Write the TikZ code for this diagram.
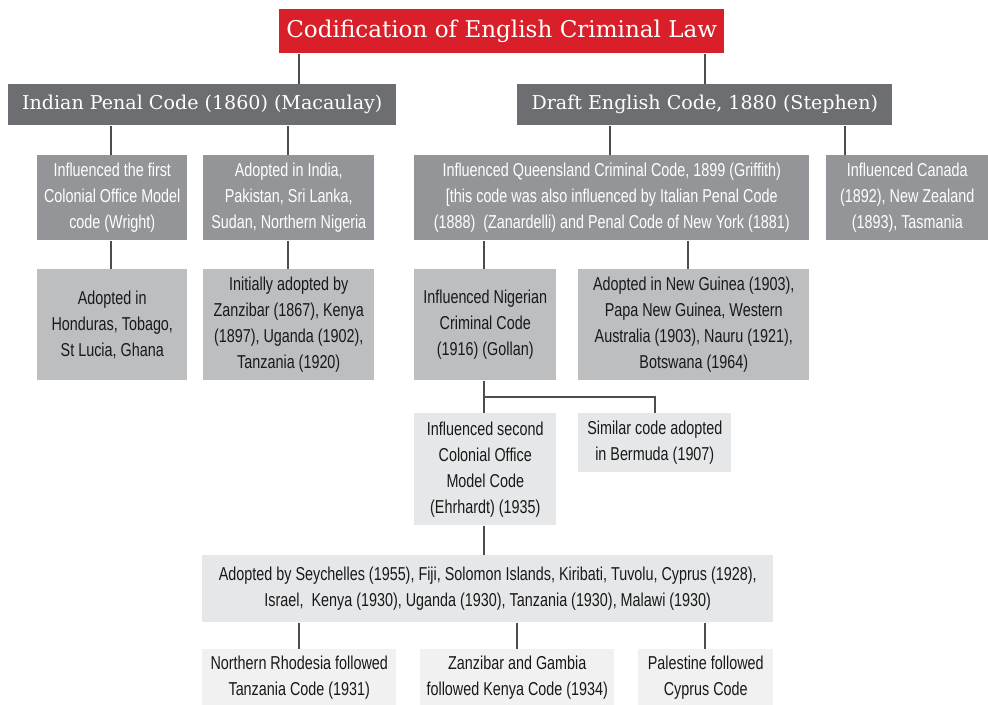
\documentclass[tikz,border=0pt]{standalone}
\usepackage{fontspec}
\newfontfamily\slabfont{DejaVu Serif}
\newfontfamily\narrowfont{Liberation Sans}[FakeStretch=0.77]
\definecolor{codered}{HTML}{D9202A}
\definecolor{grayA}{HTML}{6D6E71}
\definecolor{grayB}{HTML}{939598}
\definecolor{grayC}{HTML}{BCBEC0}
\definecolor{grayD}{HTML}{E6E7E8}
\definecolor{grayE}{HTML}{F1F1F2}
\definecolor{linkgray}{HTML}{4D4D4F}
\begin{document}
\begin{tikzpicture}[x=0.75pt,y=-0.75pt,
    box/.style={anchor=north west, inner sep=0pt, align=center,
      font=\narrowfont\fontsize{14}{19.5}\selectfont, text=black!90},
    head/.style={box, fill=grayA, text=white, minimum height=30.75pt,
      font=\slabfont\fontsize{14.3}{16}\selectfont},
    mid/.style={box, fill=grayB, text=white, minimum height=63.75pt},
    pale/.style={box, fill=grayC},
    paler/.style={box, fill=grayD},
    palest/.style={box, fill=grayE, minimum height=41.25pt},
    link/.style={draw=linkgray, line width=1.5pt}]
  \useasboundingbox (0,0) rectangle (988,705);
  \draw
    (279,9) node[head, fill=codered, minimum width=333.75pt, minimum height=33pt,
      font=\slabfont\fontsize{17.3}{19}\selectfont] (title){Codification of English Criminal Law}
    (8,84) node[head, minimum width=291pt] (ipc){Indian Penal Code (1860) (Macaulay)}
    (517,84) node[head, minimum width=281.25pt] (draft){Draft English Code, 1880 (Stephen)}
    (37,155) node[mid, minimum width=112.5pt] (wright){Influenced the first\\Colonial Office Model\\code (Wright)}
    (203,155) node[mid, minimum width=128.25pt] (india){Adopted in India,\\Pakistan, Sri Lanka,\\Sudan, Northern Nigeria}
    (414,155) node[mid, minimum width=296.25pt] (qld){Influenced Queensland Criminal Code, 1899 (Griffith)\\{}[this code was also influenced by Italian Penal Code\\(1888)\ \ (Zanardelli) and Penal Code of New York (1881)}
    (826,155) node[mid, minimum width=121.5pt] (canada){Influenced Canada\\(1892), New Zealand\\(1893), Tasmania}
    (37,269) node[pale, minimum width=112.5pt, minimum height=83.25pt] (honduras){Adopted in\\Honduras, Tobago,\\St Lucia, Ghana}
    (203,269) node[pale, minimum width=128.25pt, minimum height=83.25pt] (zanzibar){Initially adopted by\\Zanzibar (1867), Kenya\\(1897), Uganda (1902),\\Tanzania (1920)}
    (414,269) node[pale, minimum width=106.5pt, minimum height=83.25pt] (nigeria){Influenced Nigerian\\Criminal Code\\(1916) (Gollan)}
    (578,269) node[pale, minimum width=173.25pt, minimum height=83.25pt] (guinea){Adopted in New Guinea (1903),\\Papa New Guinea, Western\\Australia (1903), Nauru (1921),\\Botswana (1964)}
    (414,413) node[paler, minimum width=106.5pt, minimum height=84pt] (second){Influenced second\\Colonial Office\\Model Code\\(Ehrhardt) (1935)}
    (578,413) node[paler, minimum width=114.75pt, minimum height=44.25pt] (bermuda){Similar code adopted\\in Bermuda (1907)}
    (202,555) node[paler, minimum width=428.25pt, minimum height=50.25pt] (seychelles){Adopted by Seychelles (1955), Fiji, Solomon Islands, Kiribati, Tuvolu, Cyprus (1928),\\Israel,\ \ Kenya (1930), Uganda (1930), Tanzania (1930), Malawi (1930)}
    (202,649) node[palest, minimum width=145.5pt, minimum height=42pt] (rhodesia){Northern Rhodesia followed\\Tanzania Code (1931)}
    (420,649) node[palest, minimum width=145.5pt, minimum height=42pt] (gambia){Zanzibar and Gambia\\followed Kenya Code (1934)}
    (638,649) node[palest, minimum width=101.25pt, minimum height=42pt] (palestine){Palestine followed\\Cyprus Code};
  \coordinate (xa) at (299,0);
  \coordinate (xb) at (705,0);
  \coordinate (xc) at (111,0);
  \coordinate (xd) at (288,0);
  \coordinate (xe) at (484,0);
  \coordinate (xf) at (610,0);
  \coordinate (xg) at (845,0);
  \coordinate (xh) at (688,0);
  \coordinate (xi) at (655,0);
  \coordinate (xj) at (517,0);
  \coordinate (fork) at (484,397);
  \begin{scope}[link]
    \draw (title.south -| xa) -- (ipc.north -| xa);
    \draw (title.south -| xb) -- (draft.north -| xb);
    \draw (ipc.south -| xc) -- (wright.north -| xc);
    \draw (ipc.south -| xd) -- (india.north -| xd);
    \draw (draft.south -| xf) -- (qld.north -| xf);
    \draw (draft.south -| xg) -- (canada.north -| xg);
    \draw (wright.south -| xc) -- (honduras.north -| xc);
    \draw (india.south -| xd) -- (zanzibar.north -| xd);
    \draw (qld.south -| xe) -- (nigeria.north -| xe);
    \draw (qld.south -| xh) -- (guinea.north -| xh);
    \draw (nigeria.south -| xe) -- (second.north -| xe);
    \draw (fork) -| (bermuda.north -| xi);
    \draw (second.south -| xe) -- (seychelles.north -| xe);
    \draw (seychelles.south -| xa) -- (rhodesia.north -| xa);
    \draw (seychelles.south -| xj) -- (gambia.north -| xj);
    \draw (seychelles.south -| xb) -- (palestine.north -| xb);
  \end{scope}
\end{tikzpicture}
\end{document}
